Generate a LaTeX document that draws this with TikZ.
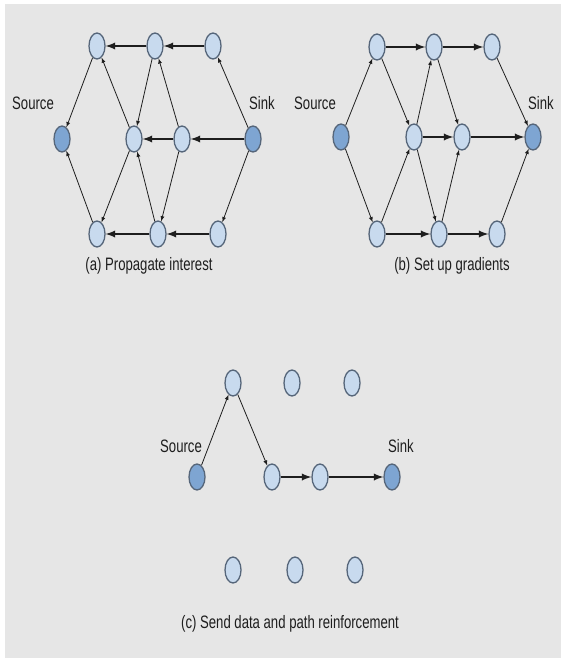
\documentclass[tikz,border=0pt]{standalone}
\usepackage{fontspec}
\setmainfont{Liberation Sans}[FakeStretch=0.73]
\usetikzlibrary{shapes.geometric}
\definecolor{paper}{HTML}{E6E6E6}
\definecolor{nodefill}{HTML}{C8DAEE}
\definecolor{endfill}{HTML}{7EA5D2}
\definecolor{rim}{HTML}{56667A}
\definecolor{ink}{HTML}{1E1E1E}
\begin{document}
\begin{tikzpicture}[x=1pt,y=-1pt,>=latex]
	\tikzstyle{sensor} = [ellipse,draw=rim,line width=1.3pt,fill=nodefill,minimum width=16pt,minimum height=26pt,inner sep=0pt]
	\tikzstyle{endpt} = [sensor,fill=endfill]
	\tikzstyle{weak} = [->,draw=ink,line width=0.8pt]
	\tikzstyle{strong} = [->,draw=ink,line width=2.2pt,>={latex[scale=0.8]}]
	\tikzstyle{lbl} = [text=ink,font=\fontsize{18}{20}\selectfont,inner sep=0pt]

	\useasboundingbox (0,0) rectangle (561,658);
	\fill[white] (0,0) rectangle (561,658);
	\fill[paper] (5,4) rectangle (561,658);

	% (a) propagate interest
	\node[sensor] (at1) at (97,46) {};
	\node[sensor] (at2) at (155,46) {};
	\node[sensor] (at3) at (213,46) {};
	\node[endpt] (asrc) at (62,139) {};
	\node[sensor] (am1) at (134,139) {};
	\node[sensor] (am2) at (182,139) {};
	\node[endpt] (asink) at (253,139) {};
	\node[sensor] (ab1) at (97,234) {};
	\node[sensor] (ab2) at (158,234) {};
	\node[sensor] (ab3) at (218,234) {};
	\node[lbl] (asrcl) at (33,103) {Source};
	\node[lbl] (asinkl) at (262,103) {Sink};
	\node[lbl] (acap) at (149,266) {(a) Propagate interest};

	\path (at3) edge[strong] (at2);
	\path (at2) edge[strong] (at1);
	\path (asink) edge[strong] (am2);
	\path (am2) edge[strong] (am1);
	\path (ab3) edge[strong] (ab2);
	\path (ab2) edge[strong] (ab1);
	\path (asink) edge[weak] (at3);
	\path (asink) edge[weak] (ab3);
	\path (am2) edge[weak] (at2);
	\path (am2) edge[weak] (ab2);
	\path (at2) edge[weak] (am1);
	\path (ab2) edge[weak] (am1);
	\path (am1) edge[weak] (at1);
	\path (am1) edge[weak] (ab1);
	\path (at1) edge[weak] (asrc);
	\path (ab1) edge[weak] (asrc);

	% (b) set up gradients
	\node[sensor] (bt1) at (377,47) {};
	\node[sensor] (bt2) at (434,47) {};
	\node[sensor] (bt3) at (492,47) {};
	\node[endpt] (bsrc) at (341,137) {};
	\node[sensor] (bm1) at (414,137) {};
	\node[sensor] (bm2) at (462,137) {};
	\node[endpt] (bsink) at (533,137) {};
	\node[sensor] (bb1) at (377,234) {};
	\node[sensor] (bb2) at (439,234) {};
	\node[sensor] (bb3) at (497,234) {};
	\node[lbl] (bsrcl) at (315,103) {Source};
	\node[lbl] (bsinkl) at (541,103) {Sink};
	\node[lbl] (bcap) at (452,266) {(b) Set up gradients};

	\path (bt1) edge[strong] (bt2);
	\path (bt2) edge[strong] (bt3);
	\path (bm1) edge[strong] (bm2);
	\path (bm2) edge[strong] (bsink);
	\path (bb1) edge[strong] (bb2);
	\path (bb2) edge[strong] (bb3);
	\path (bsrc) edge[weak] (bt1);
	\path (bsrc) edge[weak] (bb1);
	\path (bt1) edge[weak] (bm1);
	\path (bb1) edge[weak] (bm1);
	\path (bm1) edge[weak] (bt2);
	\path (bm1) edge[weak] (bb2);
	\path (bt2) edge[weak] (bm2);
	\path (bb2) edge[weak] (bm2);
	\path (bt3) edge[weak] (bsink);
	\path (bb3) edge[weak] (bsink);

	% (c) send data and path reinforcement
	\node[sensor] (ct1) at (233,383) {};
	\node[sensor] (ct2) at (292,383) {};
	\node[sensor] (ct3) at (352,383) {};
	\node[endpt] (csrc) at (197,477) {};
	\node[sensor] (cm1) at (272,477) {};
	\node[sensor] (cm2) at (320,477) {};
	\node[endpt] (csink) at (392,477) {};
	\node[sensor] (cb1) at (233,570) {};
	\node[sensor] (cb2) at (295,570) {};
	\node[sensor] (cb3) at (355,570) {};
	\node[lbl] (csrcl) at (181,446) {Source};
	\node[lbl] (csinkl) at (401,446) {Sink};
	\node[lbl] (ccap) at (290,624) {(c) Send data and path reinforcement};

	\path (csrc) edge[weak] (ct1);
	\path (ct1) edge[weak] (cm1);
	\path (cm1) edge[strong] (cm2);
	\path (cm2) edge[strong] (csink);
\end{tikzpicture}
\end{document}
